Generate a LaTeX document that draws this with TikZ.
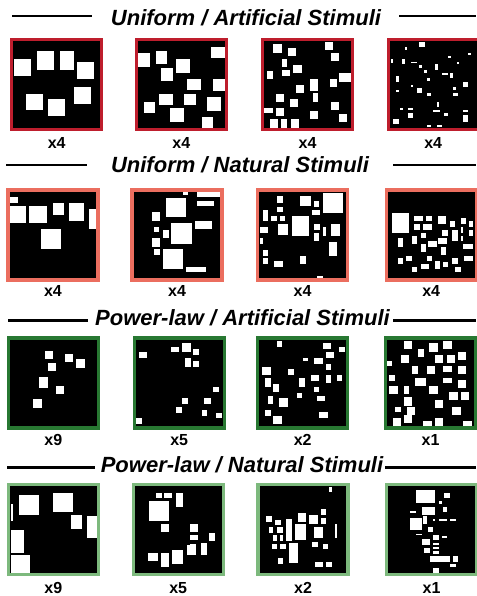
\documentclass[tikz,border=0pt]{standalone}
\usepackage{fontspec}
\setmainfont{Liberation Sans}
\usetikzlibrary{positioning}

\definecolor{uaRed}{RGB}{190,30,45}
\definecolor{unSalmon}{RGB}{235,110,95}
\definecolor{paGreen}{RGB}{40,120,50}
\definecolor{pnGreen}{RGB}{125,185,125}

\begin{document}
\begin{tikzpicture}[
    x=1pt, y=-1pt,
    panel/.style={
      fill=black,
      minimum size=90pt,
      inner sep=0pt,
      outer sep=0pt
    },
    frame/.style={line width=3.2pt},
    stim/.style={fill=white},
    hdr/.style={
      anchor=base,
      inner sep=0pt,
      font=\fontsize{22}{26}\selectfont\bfseries\itshape
    },
    lab/.style={
      inner sep=0pt,
      font=\fontsize{16}{19}\selectfont\bfseries
    },
    rule/.style={line width=2.6pt}
  ]
    \useasboundingbox (0,0) rectangle (476,596);

    % headers
    \node[hdr] (hdA) at (246,26) {Uniform / Artificial Stimuli};
    \node[hdr] (hdB) at (240,172.7) {Uniform / Natural Stimuli};
    \node[hdr] (hdC) at (242.5,325) {Power-law / Artificial Stimuli};
    \node[hdr] (hdD) at (242,472.7) {Power-law / Natural Stimuli};
    \draw[rule] (12,16) -- (92,16) (399,16) -- (476,16);
    \draw[rule] (6,165) -- (87,165) (393,165) -- (476,165);
    \draw[rule] (8,320.7) -- (88,320.7) (393,320.7) -- (476,320.7);
    \draw[rule] (7,467.3) -- (95,467.3) (385,467.3) -- (476,467.3);

    % panels
    \foreach \c/\n in {56.7/1, 181.3/2, 307.5/3, 433.2/4}
      \node[panel] (pA\n) at (\c,84.5) {};
    \foreach \c/\n in {53/1, 177/2, 302.5/3, 431.2/4}
      \node[panel] (pB\n) at (\c,235) {};
    \foreach \c/\n in {53.3/1, 179.2/2, 302.7/3, 430.5/4}
      \node[panel] (pC\n) at (\c,383) {};
    \foreach \c/\n in {53.3/1, 178.2/2, 303/3, 431.5/4}
      \node[panel] (pD\n) at (\c,529.8) {};

    % stimuli, row 1
    \begin{scope}[scale=1/3]
      \foreach \a/\b/\c/\d in {42/178/93/228, 112/152/162/210, 180/152/222/210,
          232/185/282/237, 78/282/128/330, 145/298/196/348, 222/262/272/312}
        \fill[stim] (\a,\b) rectangle (\c,\d);
      \foreach \a/\b/\c/\d in {415/160/450/200, 467/152/500/192, 632/142/675/175,
          484/203/518/243, 527/178/570/220, 562/238/604/270, 638/238/675/272,
          476/282/518/314, 552/282/587/314, 622/290/664/332, 432/307/466/340,
          510/323/552/365, 605/350/638/383}
        \fill[stim] (\a,\b) rectangle (\c,\d);
      \foreach \a/\b/\c/\d in {820/133/845/158, 863/143/887/167, 975/125/1000/150,
          993/160/1017/184, 845/178/862/202, 880/195/905/220, 845/210/870/227,
          802/213/818/237, 1018/220/1052/245, 930/237/955/272, 990/237/1010/262,
          888/255/913/280, 828/282/853/305, 938/280/955/305, 870/298/895/322,
          993/305/1017/330, 793/323/818/340, 828/323/853/347, 930/333/955/357,
          1018/342/1042/367, 810/357/835/383, 843/357/862/383, 872/357/896/383}
        \fill[stim] (\a,\b) rectangle (\c,\d);
      \foreach \a/\b/\c/\d in {1258/125/1275/140, 1215/142/1222/150, 1172/178/1180/190,
          1207/178/1215/192, 1232/185/1250/190, 1258/195/1265/203, 1273/210/1282/218,
          1305/193/1315/210, 1325/218/1345/225, 1350/218/1358/235, 1345/168/1352/175,
          1372/185/1378/192, 1405/158/1412/165, 1188/228/1196/245, 1282/235/1290/243,
          1233/255/1240/262, 1250/263/1265/280, 1188/270/1196/277, 1282/280/1292/287,
          1360/262/1367/270, 1360/278/1375/287, 1388/245/1403/262, 1310/305/1317/320,
          1300/330/1320/337, 1200/323/1208/330, 1225/325/1240/330, 1225/340/1240/355,
          1390/330/1403/337, 1390/345/1403/365, 1180/358/1197/373, 1282/375/1292/382,
          1310/375/1325/382, 1333/340/1345/347}
        \fill[stim] (\a,\b) rectangle (\c,\d);
    \end{scope}

    % stimuli, row 2
    \begin{scope}[shift={(0,150)}, scale=1/3]
      \foreach \a/\b/\c/\d in {28/142/53/158, 28/168/78/220, 88/168/140/220,
          158/160/192/195, 208/160/252/212, 268/178/287/237, 122/237/183/298}
        \fill[stim] (\a,\b) rectangle (\c,\d);
      \foreach \a/\b/\c/\d in {548/125/565/135, 592/125/660/142, 497/143/557/202,
          592/152/643/168, 455/187/480/212, 585/213/635/238, 513/220/575/282,
          463/230/478/245, 488/240/506/265, 455/265/480/290, 463/298/480/315,
          488/298/548/358, 557/350/617/367}
        \fill[stim] (\a,\b) rectangle (\c,\d);
      \foreach \a/\b/\c/\d in {832/138/848/160, 900/138/933/168, 968/128/1028/188,
          942/153/958/170, 832/170/848/187, 935/180/960/195, 790/180/805/213,
          813/197/830/213, 840/197/855/213, 875/197/927/257, 833/222/865/255,
          780/232/805/248, 943/222/960/240, 968/232/977/257, 993/222/1020/257,
          943/248/958/272, 780/265/790/282, 987/275/1012/317, 790/300/805/317,
          790/325/805/342, 823/333/848/350, 900/317/917/342, 952/377/968/387}
        \fill[stim] (\a,\b) rectangle (\c,\d);
      \foreach \a/\b/\c/\d in {1175/188/1227/248, 1243/197/1268/213, 1277/197/1295/213,
          1313/197/1338/222, 1350/213/1365/230, 1382/205/1398/222, 1407/213/1420/230,
          1243/222/1260/240, 1270/222/1295/240, 1325/240/1345/257, 1357/240/1375/273,
          1382/232/1390/248, 1407/240/1420/257, 1262/250/1277/265, 1237/258/1252/282,
          1193/265/1208/290, 1285/273/1310/290, 1313/265/1340/282, 1382/258/1390/273,
          1262/282/1277/307, 1322/290/1338/315, 1390/282/1420/298, 1217/317/1235/333,
          1193/325/1208/342, 1280/317/1297/333, 1262/342/1287/358, 1305/333/1320/358,
          1330/335/1345/350, 1357/325/1373/342, 1392/317/1420/333, 1237/350/1252/367,
          1365/350/1382/367}
        \fill[stim] (\a,\b) rectangle (\c,\d);
    \end{scope}

    % stimuli, row 3
    \begin{scope}[shift={(0,300)}, scale=1/3]
      \foreach \a/\b/\c/\d in {135/153/160/177, 195/163/220/187, 228/178/255/205,
          143/188/168/213, 118/232/143/265, 168/257/193/282, 100/298/126/323}
        \fill[stim] (\a,\b) rectangle (\c,\d);
      \foreach \a/\b/\c/\d in {417/157/442/173, 512/140/537/157, 545/130/572/157,
          580/148/597/165, 555/175/572/200, 580/182/597/200, 640/260/658/277,
          545/295/563/312, 613/295/632/312, 528/322/545/338, 605/330/622/347,
          648/338/665/355, 408/355/425/372}
        \fill[stim] (\a,\b) rectangle (\c,\d);
      \foreach \a/\b/\c/\d in {830/123/847/140, 968/130/993/148, 1018/140/1035/157,
          977/157/1002/173, 908/175/925/182, 942/175/968/192, 977/193/993/210,
          787/200/812/225, 865/208/882/225, 933/225/958/242, 977/225/993/250,
          1010/225/1027/242, 795/235/812/260, 898/235/915/260, 820/252/837/277,
          942/260/958/277, 890/278/907/295, 950/287/975/303, 803/287/820/312,
          838/295/863/320, 795/330/812/347, 958/337/983/355, 820/347/845/372}
        \fill[stim] (\a,\b) rectangle (\c,\d);
      \foreach \a/\b/\c/\d in {1212/122/1237/147, 1288/130/1313/155, 1330/122/1355/147,
          1255/147/1272/172, 1203/165/1228/190, 1305/165/1330/190, 1340/165/1365/190,
          1373/157/1398/180, 1157/182/1175/198, 1237/198/1253/223, 1280/198/1305/223,
          1330/198/1355/215, 1373/198/1398/223, 1167/225/1185/242, 1245/233/1278/258,
          1330/233/1355/248, 1373/240/1398/265, 1167/258/1193/283, 1212/258/1228/283,
          1288/258/1313/283, 1348/275/1373/300, 1382/275/1408/300, 1212/292/1237/317,
          1305/300/1330/325, 1185/320/1202/337, 1220/320/1245/345, 1357/320/1382/345,
          1178/353/1203/378, 1212/345/1237/370, 1270/362/1295/378, 1305/353/1330/378,
          1390/362/1415/378}
        \fill[stim] (\a,\b) rectangle (\c,\d);
    \end{scope}

    % stimuli, row 4
    \begin{scope}[shift={(0,446)}, scale=1/3]
      \foreach \a/\b/\c/\d in {57/148/117/208, 160/140/220/198, 32/175/40/225,
          212/208/245/250, 262/210/290/275, 32/252/73/320, 32/328/90/380}
        \fill[stim] (\a,\b) rectangle (\c,\d);
      \foreach \a/\b/\c/\d in {467/140/485/155, 492/140/517/155, 527/140/550/182,
          448/165/508/225, 483/235/508/258, 570/235/595/258, 570/268/595/283,
          628/260/645/285, 570/293/588/310, 603/290/620/328, 560/297/587/328,
          443/322/475/345, 483/322/508/362, 517/313/550/355}
        \fill[stim] (\a,\b) rectangle (\c,\d);
      \foreach \a/\b/\c/\d in {988/122/995/138, 893/202/918/227, 928/208/953/233,
          962/190/978/208, 962/217/978/233, 798/210/815/227, 825/222/842/238,
          857/218/875/285, 885/235/918/283, 943/243/968/275, 1005/235/1012/275,
          808/243/820/260, 832/243/850/260, 818/268/832/285, 840/268/850/285,
          815/293/832/310, 840/293/857/310, 868/292/893/352, 937/288/953/303,
          970/293/985/310, 833/337/850/353, 945/347/968/362, 978/347/995/362}
        \fill[stim] (\a,\b) rectangle (\c,\d);
      \foreach \a/\b/\c/\d in {1248/133/1305/170, 1333/140/1350/157, 1318/165/1325/173,
          1265/183/1305/208, 1328/183/1342/198, 1230/195/1247/200, 1268/210/1282/233,
          1298/218/1305/225, 1318/220/1340/225, 1350/220/1367/225, 1230/217/1265/252,
          1283/243/1300/258, 1248/263/1265/268, 1300/268/1318/283, 1325/270/1342/277,
          1265/278/1290/297, 1300/290/1318/298, 1300/303/1318/310, 1272/307/1290/322,
          1298/315/1318/323, 1290/330/1350/347, 1358/330/1375/347, 1350/355/1367/362,
          1300/365/1318/382}
        \fill[stim] (\a,\b) rectangle (\c,\d);
    \end{scope}

    % frames
    \foreach \n in {1,...,4} {
      \draw[frame, uaRed] (pA\n.north west) rectangle (pA\n.south east);
      \draw[frame, unSalmon] (pB\n.north west) rectangle (pB\n.south east);
      \draw[frame, paGreen] (pC\n.north west) rectangle (pC\n.south east);
      \draw[frame, pnGreen] (pD\n.north west) rectangle (pD\n.south east);
    }

    % repetition counts
    \foreach \n/\t in {1/x4, 2/x4, 3/x4, 4/x4} {
      \node[lab, below=7.5pt of pA\n] (lA\n) {\t};
      \node[lab, below=5.5pt of pB\n] (lB\n) {\t};
    }
    \foreach \n/\t in {1/x9, 2/x5, 3/x2, 4/x1} {
      \node[lab, below=6pt of pC\n] (lC\n) {\t};
      \node[lab, below=7pt of pD\n] (lD\n) {\t};
    }
  \end{tikzpicture}
\end{document}
